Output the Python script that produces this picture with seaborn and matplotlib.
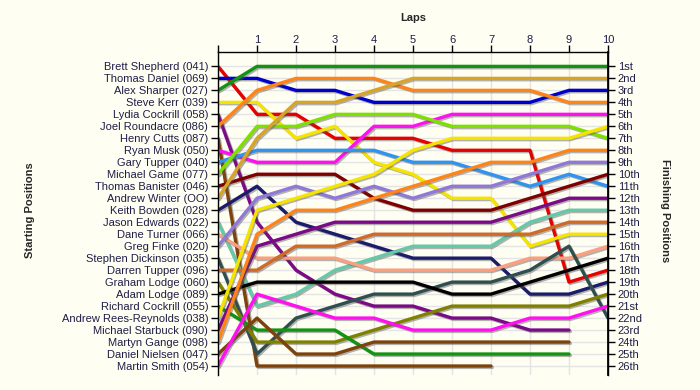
import seaborn as sns
import matplotlib.pyplot as plt
import matplotlib.patheffects as pe
import numpy as np
import pandas as pd

# lap chart data: positions at the end of laps 0..10 (0 = grid), nan = retired
laps = list(range(11))
drivers = ['Brett Shepherd (041)', 'Thomas Daniel (069)', 'Alex Sharper (027)', 'Steve Kerr (039)',
           'Lydia Cockrill (058)', 'Joel Roundacre (086)', 'Henry Cutts (087)', 'Ryan Musk (050)',
           'Gary Tupper (040)', 'Michael Game (077)', 'Thomas Banister (046)', 'Andrew Winter (OO)',
           'Keith Bowden (028)', 'Jason Edwards (022)', 'Dane Turner (066)', 'Greg Finke (020)',
           'Stephen Dickinson (035)', 'Darren Tupper (096)', 'Graham Lodge (060)', 'Adam Lodge (089)',
           'Richard Cockrill (055)', 'Andrew Rees-Reynolds (038)', 'Michael Starbuck (090)',
           'Martyn Gange (098)', 'Daniel Nielsen (047)', 'Martin Smith (054)']
nan = np.nan
positions = [
    [1, 5, 5, 7, 7, 7, 8, 8, 8, 19, 18],
    [2, 2, 3, 3, 4, 4, 4, 4, 4, 3, 3],
    [3, 1, 1, 1, 1, 1, 1, 1, 1, 1, 1],
    [4, 4, 7, 6, 9, 10, 12, 12, 16, 15, 15],
    [5, 14, 18, 20, 21, 21, 22, 22, 23, 23, nan],
    [6, 3, 2, 2, 2, 3, 3, 3, 3, 4, 4],
    [7, 26, 26, 26, 26, 26, 26, 26, nan, nan, nan],
    [8, 9, 9, 9, 6, 6, 5, 5, 5, 5, 5],
    [9, 8, 8, 8, 8, 9, 9, 10, 11, 10, 11],
    [10, 6, 6, 5, 5, 5, 6, 6, 6, 6, 7],
    [11, 10, 10, 10, 12, 13, 13, 13, 12, 11, 10],
    [12, 7, 4, 4, 3, 2, 2, 2, 2, 2, 2],
    [13, 11, 14, 15, 16, 17, 17, 17, 20, 20, 19],
    [14, 21, 20, 18, 17, 16, 16, 16, 14, 13, 13],
    [15, 17, 17, 17, 18, 18, 18, 18, 17, 17, 16],
    [16, 12, 11, 12, 11, 12, 11, 11, 10, 9, 9],
    [17, 25, 22, 21, 20, 20, 19, 19, 18, 16, 22],
    [18, 18, 16, 16, 15, 15, 15, 15, 15, 14, 14],
    [19, 24, 24, 24, 23, 22, 21, 21, 21, 21, 20],
    [20, 19, 19, 19, 19, 19, 20, 20, 19, 18, 17],
    [21, 23, 23, 23, 25, 25, 25, 25, 25, 25, nan],
    [22, 13, 12, 11, 10, 8, 7, 7, 7, 7, 6],
    [23, 16, 15, 14, 14, 14, 14, 14, 13, 12, 12],
    [24, 15, 13, 13, 12, 11, 10, 9, 9, 8, 8],
    [25, 22, 25, 25, 24, 24, 24, 24, 24, 24, nan],
    [26, 20, 21, 22, 22, 23, 23, 23, 22, 22, 21],
]
finish_labels = ['1st', '2nd', '3rd', '4th', '5th', '6th', '7th', '8th', '9th', '10th', '11th', '12th',
                 '13th', '14th', '15th', '16th', '17th', '18th', '19th', '20th', '21st', '22nd', '23rd',
                 '24th', '25th', '26th']
base_colors = ['#E80000', '#0000CC', '#129412', '#F5E400', '#7A0A85', '#FF8418', '#7E420C', '#FF10F0',
               '#2E94F0', '#7EE000', '#7E0000', '#D8A428', '#1C1C6C', '#66C8A8', '#F8A080', '#9078D8',
               '#2F4F4F', '#D06A28', '#808000', '#000000']
colors = [base_colors[i] if i < 20 else base_colors[i - 18] for i in range(len(drivers))]

rows = []
for name, pos in zip(drivers, positions):
    for lap, p in zip(laps, pos):
        rows.append({'driver': name, 'lap': lap, 'pos': p})
df = pd.DataFrame(rows).dropna()

sns.set_theme(style='white')
plt.rcParams['font.family'] = ['Liberation Sans', 'DejaVu Sans']
bg = '#FFFEF2'
txt = '#1E1E48'
fs = 8

fig = plt.figure(figsize=(7, 3.9), dpi=100, facecolor=bg)
ax = fig.add_axes([218 / 700, 15 / 390, 390 / 700, 323 / 390])
ax.set_facecolor(bg)

sns.lineplot(data=df, x='lap', y='pos', hue='driver', hue_order=drivers,
             palette=dict(zip(drivers, colors)), sort=False, estimator=None,
             linewidth=2.4, legend=False, ax=ax)
for line in ax.lines:
    line.set_path_effects([pe.SimpleLineShadow(offset=(1, -1), shadow_color='#555555', alpha=0.45),
                           pe.Normal()])

ax.set_xlim(0, 10)
ax.set_ylim(26.75, -0.2)
ax.xaxis.tick_top()
ax.set_xticks(laps)
ax.set_xticklabels([''] + [str(l) for l in laps[1:]], fontsize=fs, color=txt)
ax.set_yticks(range(1, 27))
ax.set_yticklabels(drivers, fontsize=fs, color=txt)
ax.tick_params(axis='y', length=5, width=1, color='black', pad=2, direction='out')
ax.tick_params(axis='x', length=5, width=1, color='black', pad=0, direction='out')
ax.grid(True, color='#E4E4E4', linewidth=1)
ax.set_axisbelow(True)
ax.set_xlabel('')
ax.set_ylabel('')
for s in ['left', 'top', 'right']:
    ax.spines[s].set_color('black')
    ax.spines[s].set_linewidth(1)
ax.spines['bottom'].set_visible(False)

ax2 = ax.twinx()
ax2.set_ylim(ax.get_ylim())
ax2.set_yticks(range(1, 27))
ax2.set_yticklabels(finish_labels, fontsize=fs, color=txt)
ax2.tick_params(axis='y', length=5, width=1, color='black', pad=2)
ax2.grid(False)
for s in ['left', 'top', 'bottom']:
    ax2.spines[s].set_visible(False)
ax2.spines['right'].set_color('black')

fig.text(413 / 700, 1 - 18 / 390, 'Laps', ha='center', va='center', fontsize=fs, fontweight='bold')
fig.text(30 / 700, 0.46, 'Starting Positions', ha='center', va='center', rotation=90,
         fontsize=fs, fontweight='bold')
fig.text(665 / 700, 0.46, 'Finishing Positions', ha='center', va='center', rotation=270,
         fontsize=fs, fontweight='bold')

fig.savefig('out.png', dpi=100, facecolor=bg)
